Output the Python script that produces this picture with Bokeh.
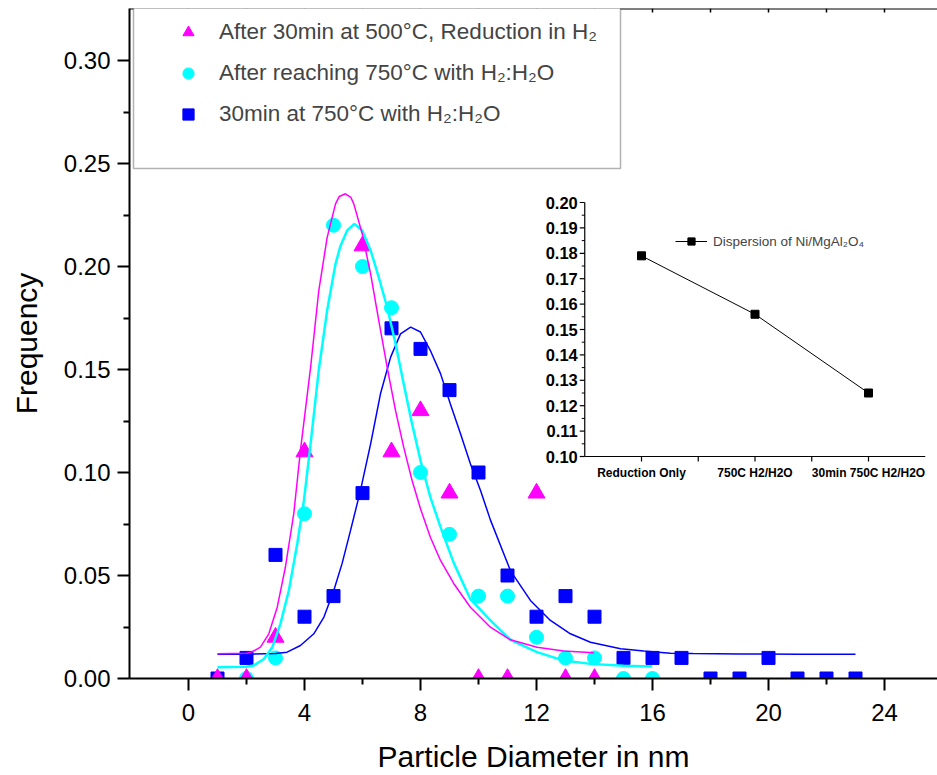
import numpy as np
from bokeh.plotting import figure
from bokeh.models import (Range1d, FixedTicker, PrintfTickFormatter,
                          Legend, LegendItem, BoxAnnotation, Span)
from bokeh.core.properties import value
from bokeh.embed import file_html
from bokeh.resources import INLINE

FONT = "Liberation Sans"

# ---------------- main chart data ----------------
tri_x = [1, 2, 3, 4, 6, 7, 8, 9, 10, 11, 12, 13, 14]
tri_y = [0.00, 0.00, 0.02, 0.11, 0.21, 0.11, 0.13, 0.09, 0.00, 0.00, 0.09, 0.00, 0.00]

circ_x = [2, 3, 4, 5, 6, 7, 8, 9, 10, 11, 12, 13, 14, 15, 16]
circ_y = [0.00, 0.01, 0.08, 0.22, 0.20, 0.18, 0.10, 0.07, 0.04, 0.04, 0.02, 0.01, 0.01, 0.00, 0.00]

sq_x = [1, 2, 3, 4, 5, 6, 7, 8, 9, 10, 11, 12, 13, 14, 15, 16, 17, 18, 19, 20, 21, 22, 23]
sq_y = [0.00, 0.01, 0.06, 0.03, 0.04, 0.09, 0.17, 0.16, 0.14, 0.10, 0.05, 0.03, 0.04, 0.03,
        0.01, 0.01, 0.01, 0.00, 0.00, 0.01, 0.00, 0.00, 0.00]

# fitted curves
mag_fx = [1.0, 2.0, 2.2, 2.48, 2.77, 3.06, 3.34, 3.63, 3.86, 4.21, 4.49, 4.78, 5.07, 5.2, 5.41,
          5.6, 5.70, 5.99, 6.28, 6.56, 6.85, 7.14, 7.42, 7.71, 8.0, 8.34, 8.69, 9.15, 9.72,
          10.41, 11.1, 12.02, 12.94, 13.98]
mag_fy = [0.0120, 0.0123, 0.0130, 0.0152, 0.0217, 0.0346, 0.054, 0.080, 0.1107, 0.151, 0.188,
          0.214, 0.2304, 0.2340, 0.2353, 0.2335, 0.2304, 0.2159, 0.1964, 0.1738, 0.1511, 0.130,
          0.1123, 0.0961, 0.0824, 0.0686, 0.0573, 0.046, 0.0346, 0.0249, 0.0188, 0.0152,
          0.0133, 0.0125]

cy_fx = [1.0, 2.0, 2.25, 2.6, 2.89, 3.17, 3.46, 3.75, 3.98, 4.21, 4.49, 4.78, 5.07, 5.24, 5.47,
         5.72, 5.99, 6.28, 6.56, 6.85, 7.14, 7.42, 7.71, 8.0, 8.34, 8.69, 9.15, 9.72, 10.41,
         11.1, 12.02, 12.94, 13.86, 15.0, 15.99]
cy_fy = [0.0055, 0.0057, 0.0063, 0.0095, 0.0152, 0.0265, 0.0427, 0.0654, 0.0864, 0.1139, 0.1495,
         0.1786, 0.2013, 0.2100, 0.2175, 0.2207, 0.2175, 0.2078, 0.1948, 0.1802, 0.1625, 0.1431,
         0.1236, 0.1058, 0.088, 0.0735, 0.0560, 0.0385, 0.0282, 0.0188, 0.0128, 0.0087, 0.0071,
         0.0062, 0.0058]

bl_fx = [1.0, 2.0, 3.0, 3.4, 3.86, 4.32, 4.67, 5.01, 5.3, 5.59, 5.93, 6.28, 6.62, 6.97, 7.31,
         7.66, 8.0, 8.34, 8.69, 9.03, 9.38, 9.72, 10.07, 10.41, 11.1, 11.79, 12.48, 13.17, 13.86,
         14.9, 15.7, 16.62, 17.4, 19.0, 21.0, 23.0]
bl_fy = [0.0118, 0.0118, 0.0121, 0.0128, 0.016, 0.0217, 0.0298, 0.0427, 0.0560, 0.0720, 0.0913,
         0.1139, 0.1382, 0.156, 0.1673, 0.1706, 0.1682, 0.1592, 0.148, 0.1333, 0.1188, 0.1042,
         0.0913, 0.0770, 0.0524, 0.0379, 0.0282, 0.0217, 0.0176, 0.0144, 0.0133, 0.0123, 0.0121,
         0.0119, 0.0118, 0.0118]

series_labels = ["After 30min at 500°C, Reduction in H₂",
                 "After reaching 750°C with H₂:H₂O",
                 "30min at 750°C with H₂:H₂O"]

x_ticks = [0, 4, 8, 12, 16, 20, 24]
x_minor = [2, 6, 10, 14, 18, 22]
y_ticks = [0.00, 0.05, 0.10, 0.15, 0.20, 0.25, 0.30]
y_minor = [0.025, 0.075, 0.125, 0.175, 0.225, 0.275]

# ---------------- inset data ----------------
inset_cats = ["Reduction Only", "750C H2/H2O", "30min 750C H2/H2O"]
inset_vals = [0.179, 0.156, 0.125]
inset_label = "Dispersion of Ni/MgAl₂O₄"
inset_yticks = [0.10, 0.11, 0.12, 0.13, 0.14, 0.15, 0.16, 0.17, 0.18, 0.19, 0.20]
inset_yminor = [0.105, 0.115, 0.125, 0.135, 0.145, 0.155, 0.165, 0.175, 0.185, 0.195]
inset_xticks = [1, 1.5, 2, 2.5, 3]

# ---------------- layout (pixels) ----------------
LEFT, TOP = 129, 8         # frame offset in the page
FW, FH = 808, 670          # frame size
X0 = 59.0                  # frame px of x = 0
XS = 29.0                  # px per nm
YS = 2060.0                # px per frequency unit
x_range = Range1d(-X0 / XS, (FW - X0) / XS)
y_range = Range1d(0, FH / YS)

# inset placement inside the frame
IX1 = 512.0                # frame px (from left) of first category
IDX = 113.5                # px per category
IY_BOT = 448.0             # frame px (from top) of inset y = 0.10
IYS = 2540.0               # px per inset unit
iy_lo, iy_hi = inset_yticks[0], inset_yticks[-1]
ix_range = Range1d(1 - IX1 / IDX, 1 + (FW - IX1) / IDX)
iy_range = Range1d(iy_lo - (FH - IY_BOT) / IYS, iy_lo + IY_BOT / IYS)

p = figure(width=937, height=775, frame_width=FW, frame_height=FH,
           x_range=x_range, y_range=y_range,
           output_backend="svg", toolbar_location=None,
           min_border_left=LEFT, min_border_right=0, min_border_top=TOP, min_border_bottom=0)
p.extra_x_ranges = {"ix": ix_range}
p.extra_y_ranges = {"iy": iy_range}
p.grid.visible = False
p.outline_line_color = None
p.background_fill_color = "white"
p.border_fill_color = "white"

# axes
p.xaxis.ticker = FixedTicker(ticks=x_ticks, minor_ticks=x_minor)
p.yaxis.ticker = FixedTicker(ticks=y_ticks, minor_ticks=y_minor)
p.yaxis.formatter = PrintfTickFormatter(format="%.2f")
p.xaxis.axis_label = "Particle Diameter in nm"
p.yaxis.axis_label = "Frequency"
for ax in (p.xaxis[0], p.yaxis[0]):
    ax.axis_line_width = 2
    ax.major_tick_line_width = 2
    ax.minor_tick_line_width = 2
    ax.major_tick_out = 12
    ax.major_tick_in = 0
    ax.minor_tick_out = 6
    ax.minor_tick_in = 0
    ax.major_label_text_font = FONT
    ax.major_label_text_font_size = "24px"
    ax.major_label_text_color = "black"
    ax.axis_label_text_font = FONT
    ax.axis_label_text_font_size = "30px"
    ax.axis_label_text_font_style = "normal"
    ax.axis_label_text_color = "black"
p.xaxis.major_label_standoff = 13
p.xaxis.axis_label_standoff = 16
p.yaxis.major_label_standoff = 7
p.yaxis.axis_label_standoff = 18

# top frame edge with small inward ticks
y_top = y_range.end
p.add_layout(Span(location=y_top, dimension="width", line_color="black", line_width=2))
p.ray(x=x_ticks + x_minor, y=[y_top] * (len(x_ticks) + len(x_minor)), length=4,
      length_units="screen", angle=-np.pi / 2, line_color="black", line_width=1.5)

# main markers
r_sq = p.scatter(sq_x, sq_y, marker="square", size=13, color="#0000FF")
r_ci = p.scatter(circ_x, circ_y, marker="circle", size=14, color="#00FFFF")
r_tr = p.scatter(tri_x, tri_y, marker="triangle", size=17, color="#FF00FF")

# fitted curves
p.line(bl_fx, bl_fy, line_color="#0000FF", line_width=1.5)
p.line(cy_fx, cy_fy, line_color="#00FFFF", line_width=2.5)
p.line(mag_fx, mag_fy, line_color="#FF00FF", line_width=1.5)

# legend box + legend
box = BoxAnnotation(left=4, right=491, top=FH + 2, bottom=510,
                    left_units="screen", right_units="screen",
                    top_units="screen", bottom_units="screen",
                    fill_color="white", fill_alpha=1.0,
                    line_color="black", line_width=1.5)
p.add_layout(box)
legend = Legend(items=[LegendItem(label=series_labels[0], renderers=[r_tr]),
                       LegendItem(label=series_labels[1], renderers=[r_ci]),
                       LegendItem(label=series_labels[2], renderers=[r_sq])],
                location=(44, 550), glyph_width=30, glyph_height=28, label_height=28,
                spacing=13, padding=0, margin=0, label_standoff=16,
                label_text_font=FONT, label_text_font_size="22.5px",
                border_line_alpha=0, background_fill_alpha=0)
p.add_layout(legend)

# ---------------- inset ----------------
ipos = [i + 1 for i in range(len(inset_cats))]
x_lo, x_hi = ipos[0] - 0.5, ipos[-1] + 0.5
p.segment(x0=[x_lo, x_lo], y0=[iy_lo, iy_lo], x1=[x_lo, x_hi], y1=[iy_hi, iy_lo],
          line_color="black", line_width=1.2, x_range_name="ix", y_range_name="iy")
p.ray(x=[x_lo] * len(inset_yticks), y=inset_yticks, length=5, length_units="screen",
      angle=np.pi, line_color="black", line_width=1.2, x_range_name="ix", y_range_name="iy")
p.ray(x=[x_lo] * len(inset_yminor), y=inset_yminor, length=3, length_units="screen",
      angle=np.pi, line_color="black", line_width=1, x_range_name="ix", y_range_name="iy")
p.ray(x=inset_xticks, y=[iy_lo] * len(inset_xticks), length=5, length_units="screen",
      angle=-np.pi / 2, line_color="black", line_width=1.2, x_range_name="ix", y_range_name="iy")
p.text(x=[x_lo] * len(inset_yticks), y=inset_yticks, text=["%.2f" % v for v in inset_yticks],
       x_offset=-7, text_align="right", text_baseline="middle",
       text_font=value(FONT), text_font_style="bold", text_font_size="16.5px",
       text_color="black", x_range_name="ix", y_range_name="iy")
p.text(x=ipos, y=[iy_lo] * len(ipos), text=inset_cats, y_offset=9,
       text_align="center", text_baseline="top",
       text_font=value(FONT), text_font_style="bold", text_font_size="12px",
       text_color="black", x_range_name="ix", y_range_name="iy")
r_il = p.line(ipos, inset_vals, line_color="black", line_width=1,
              x_range_name="ix", y_range_name="iy")
r_is = p.scatter(ipos, inset_vals, marker="square", size=8, color="black",
                 x_range_name="ix", y_range_name="iy")
ileg = Legend(items=[LegendItem(label=inset_label, renderers=[r_il, r_is])],
              location=(546, 428), glyph_width=32, glyph_height=18, label_height=18,
              padding=0, margin=0, label_standoff=6,
              label_text_font=FONT, label_text_font_size="13.5px",
              border_line_alpha=0, background_fill_alpha=0)
p.add_layout(ileg)

open("out.html", "w").write(file_html(p, INLINE))
